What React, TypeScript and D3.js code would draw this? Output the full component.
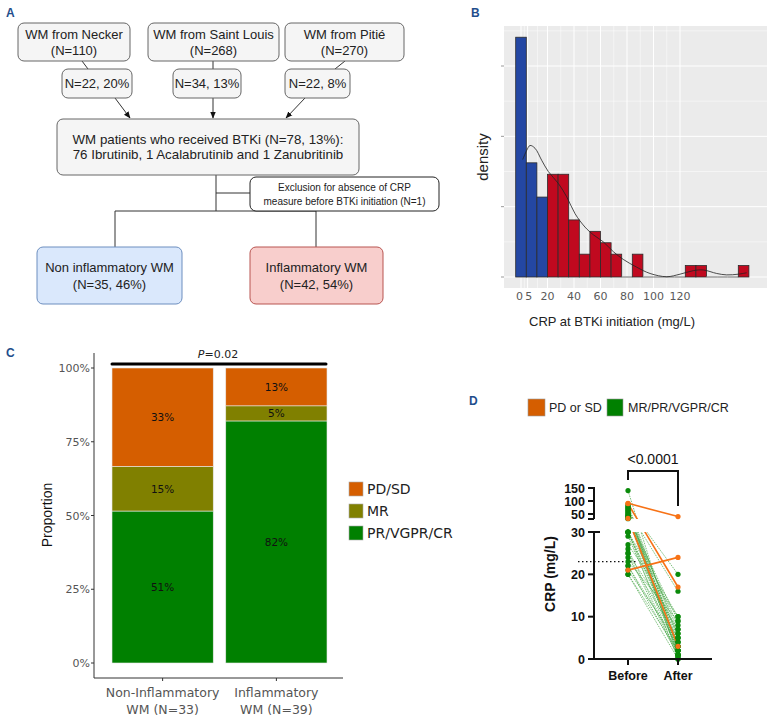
import React from 'react';
import * as d3 from 'd3';

// ---------- Panel A: flowchart texts
const centreNames = ['WM from Necker', 'WM from Saint Louis', 'WM from Pitié'];
const centreTotals = ['(N=110)', '(N=268)', '(N=270)'];
const centreTreated = ['N=22, 20%', 'N=34, 13%', 'N=22, 8%'];
const btkiLines = ['WM patients who received BTKi (N=78, 13%):', '76 Ibrutinib, 1 Acalabrutinib and 1 Zanubritinib'];
const exclusionLines = ['Exclusion for absence of CRP', 'measure before BTKi initiation (N=1)'];
const groupNames = ['Non inflammatory WM', 'Inflammatory WM'];
const groupCounts = ['(N=35, 46%)', '(N=42, 54%)'];

// ---------- Panel B: CRP histogram (bin width 8 mg/L)
const binLower = [-4, 4, 12, 20, 28, 36, 44, 52, 60, 68, 76, 84, 92, 100, 108, 116, 124, 132, 140, 148, 156, 164];
const binCounts = [21, 10, 7, 9, 9, 5, 2, 4, 3, 2, 0, 2, 0, 0, 0, 0, 1, 1, 0, 0, 0, 1];
const crpBreaks = [0, 5, 20, 40, 60, 80, 100, 120];
const densityTicks = [0, 0.01, 0.02, 0.03];
const kdeX = [1.3, 4.3, 6.8, 10.6, 15.6, 20.6, 28.2, 34.5, 40.8, 48.3, 54.6, 62.1, 69.7, 77.2, 87.3, 97.4, 110, 120, 130, 137.6, 147.7, 155.2, 164, 170.3];
const kdeY = [0.0167, 0.018, 0.0187, 0.0183, 0.0166, 0.015, 0.0133, 0.0114, 0.009, 0.0071, 0.006, 0.005, 0.0036, 0.0025, 0.0014, 0.0005, 0.00004, 0.0004, 0.0009, 0.001, 0.0005, 0.0003, 0.0004, 0.0006];

// ---------- Panel C: response by group
const respGroups = ['Non-Inflammatory|WM (N=33)', 'Inflammatory|WM (N=39)'];
const prVgprCr = [17, 32];
const mrCounts = [5, 2];
const pdSd = [11, 5];
const prLabels = ['51%', '82%'];
const mrLabels = ['15%', '5%'];
const pdLabels = ['33%', '13%'];
const respLabels = ['PD/SD', 'MR', 'PR/VGPR/CR'];
const pctTicks = [0, 0.25, 0.5, 0.75, 1];

// ---------- Panel D: CRP before / after
const crpBefore = [140, 85, 80, 76, 72, 68, 64, 60, 56, 52, 48, 45, 42, 40, 37, 35, 33, 32, 30, 30, 30, 30, 30, 29, 27, 26, 25, 25, 24, 23, 22, 22, 21, 20, 20, 91, 90, 33, 21];
const crpAfter = [2, 5, 20, 3, 1, 6, 16, 2, 4, 0.5, 7, 1, 3, 9, 2, 5, 8, 1, 10, 4, 0, 6, 3, 2, 10, 1, 7, 0.5, 5, 9, 3, 1, 4, 0, 2, 40, 17, 3, 24];
const crpResp = ['R', 'R', 'R', 'R', 'R', 'R', 'R', 'R', 'R', 'R', 'R', 'R', 'R', 'R', 'R', 'R', 'R', 'R', 'R', 'R', 'R', 'R', 'R', 'R', 'R', 'R', 'R', 'R', 'R', 'R', 'R', 'R', 'R', 'R', 'R', 'P', 'P', 'P', 'P'];
const lowerTicks = [0, 10, 20, 30];
const upperTicks = [50, 100, 150];
const crpThreshold = 23;

const SANS = '"Liberation Sans", Arial, sans-serif';
const DEJA = '"DejaVu Sans", Verdana, sans-serif';
const LETTER = '#1f4e8c';

function Box({ x, y, w, h, fill = '#f5f5f5', stroke = '#666', lines, size = 13, lineH = 16 }: any) {
  const mid = y + h / 2;
  const first = mid - ((lines.length - 1) * lineH) / 2 + size * 0.36;
  return (
    <g>
      <rect x={x} y={y} width={w} height={h} rx={6} fill={fill} stroke={stroke} strokeWidth={1} />
      {lines.map((t: string, i: number) => (
        <text key={i} x={x + w / 2} y={first + i * lineH} textAnchor="middle" fontSize={size} fontFamily={SANS} fill="#222">{t}</text>
      ))}
    </g>
  );
}

function PanelA() {
  const top = [[18, 112], [148, 131], [285, 119]];
  const small = [[62, 70], [173, 68], [285, 65]];
  return (
    <g>
      <text x={6} y={17} fontSize={12} fontWeight="bold" fill={LETTER} fontFamily={SANS}>A</text>
      <defs>
        <marker id="arr" viewBox="0 0 10 10" refX={9} refY={5} markerWidth={7} markerHeight={7} orient="auto">
          <path d="M0,1 L10,5 L0,9 z" fill="#111" />
        </marker>
      </defs>
      <g stroke="#333" strokeWidth={1} fill="none">
        <line x1={82} y1={61} x2={88} y2={69} />
        <line x1={213} y1={61} x2={213} y2={69} />
        <line x1={345} y1={61} x2={335} y2={69} />
        <line x1={115} y1={98} x2={130} y2={118} markerEnd="url(#arr)" />
        <line x1={213} y1={98} x2={213} y2={118} markerEnd="url(#arr)" />
        <line x1={305} y1={98} x2={286} y2={118} markerEnd="url(#arr)" />
        <line x1={216} y1={175} x2={216} y2={211} />
        <line x1={216} y1={193} x2={250} y2={193} />
        <line x1={115} y1={211} x2={316} y2={211} />
        <line x1={115} y1={211} x2={115} y2={247} />
        <line x1={316} y1={211} x2={316} y2={247} />
      </g>
      {top.map(([x, w], i) => (
        <Box key={i} x={x} y={23} w={w} h={38} lines={[centreNames[i], centreTotals[i]]} />
      ))}
      {small.map(([x, w], i) => (
        <Box key={i} x={x} y={69} w={w} h={29} lines={[centreTreated[i]]} />
      ))}
      <Box x={57} y={119} w={302} h={56} lines={btkiLines} size={13.3} lineH={15} />
      <Box x={250} y={177} w={189} h={34} fill="#fff" stroke="#222" lines={exclusionLines} size={10} lineH={14} />
      <Box x={37} y={247} w={145} h={57} fill="#dae8fc" stroke="#6c8ebf" lines={[groupNames[0], groupCounts[0]]} lineH={17} />
      <Box x={250} y={247} w={133} h={57} fill="#f8cecc" stroke="#b85450" lines={[groupNames[1], groupCounts[1]]} lineH={17} />
    </g>
  );
}

function PanelB() {
  const x = d3.scaleLinear().domain([0, 120]).range([521, 680]);
  const y = d3.scaleLinear().domain([0, 0.03]).range([277, 66]);
  const total = d3.sum(binCounts);
  const bw = 8;
  const left = 504, right = 767, top = 26, bottom = 288;
  const minorX = [2.5, 12.5, 30, 50, 70, 90, 110];
  const minorY = [0.005, 0.015, 0.025, 0.035];
  const line = d3.line<number>().x((_, i) => x(kdeX[i])).y((d) => y(d)).curve(d3.curveCatmullRom);
  return (
    <g>
      <text x={471} y={17} fontSize={12} fontWeight="bold" fill={LETTER} fontFamily={SANS}>B</text>
      <rect x={left} y={top} width={right - left} height={bottom - top} fill="#ebebeb" />
      {minorX.map((v) => <line key={'mx' + v} x1={x(v)} x2={x(v)} y1={top} y2={bottom} stroke="#fff" strokeWidth={0.5} />)}
      {minorY.map((v) => <line key={'my' + v} x1={left} x2={right} y1={y(v)} y2={y(v)} stroke="#fff" strokeWidth={0.5} />)}
      {crpBreaks.map((v) => <line key={'gx' + v} x1={x(v)} x2={x(v)} y1={top} y2={bottom} stroke="#fff" strokeWidth={1} />)}
      {densityTicks.map((v) => <line key={'gy' + v} x1={left} x2={right} y1={y(v)} y2={y(v)} stroke="#fff" strokeWidth={1} />)}
      {binLower.map((b, i) => {
        const d = binCounts[i] / (total * bw);
        const fill = b < 20 ? '#2447a3' : '#c0091f';
        if (binCounts[i] === 0) {
          return <line key={i} x1={x(b)} x2={x(b + bw)} y1={y(0)} y2={y(0)} stroke="#9a9a9a" strokeWidth={1.5} />;
        }
        return <rect key={i} x={x(b)} y={y(d)} width={x(b + bw) - x(b)} height={y(0) - y(d)} fill={fill} stroke="#2b2b2b" strokeWidth={0.8} />;
      })}
      <path d={line(kdeY) || ''} fill="none" stroke="#222" strokeWidth={0.8} />
      {densityTicks.map((v) => <line key={'ty' + v} x1={501} x2={504} y1={y(v)} y2={y(v)} stroke="#555" strokeWidth={0.6} />)}
      {crpBreaks.map((v) => (
        <text key={'lx' + v} x={x(v) + (v === 0 ? -1.5 : v === 5 ? 1 : 0)} y={300} textAnchor="middle" fontSize={11} fontFamily={DEJA} fill="#5a5a5a">{v}</text>
      ))}
      <text transform="translate(488,157) rotate(-90)" textAnchor="middle" fontSize={15} fontFamily={SANS} fill="#222">density</text>
      <text x={612} y={326} textAnchor="middle" fontSize={13} fontFamily={SANS} fill="#222">CRP at BTKi initiation (mg/L)</text>
    </g>
  );
}

function PanelC() {
  const x = d3.scaleBand().domain(respGroups).range([112, 327]).paddingInner(0.11).paddingOuter(0);
  const y = d3.scaleLinear().domain([0, 1]).range([663, 368]);
  const colours = ['#d55e00', '#808000', '#008000'];
  return (
    <g>
      <text x={6} y={357} fontSize={12} fontWeight="bold" fill={LETTER} fontFamily={SANS}>C</text>
      {respGroups.map((g, i) => {
        const n = prVgprCr[i] + mrCounts[i] + pdSd[i];
        const segs = [prVgprCr[i] / n, mrCounts[i] / n, pdSd[i] / n];
        const labs = [prLabels[i], mrLabels[i], pdLabels[i]];
        const cols = [colours[2], colours[1], colours[0]];
        let acc = 0;
        const x0 = x(g) as number;
        return (
          <g key={g}>
            {segs.map((p, j) => {
              const y0 = y(acc + p), y1 = y(acc);
              acc += p;
              return (
                <g key={j}>
                  <rect x={x0} y={y0} width={x.bandwidth()} height={y1 - y0} fill={cols[j]} stroke="#e8e8e8" strokeWidth={0.6} />
                  <text x={x0 + x.bandwidth() / 2} y={(y0 + y1) / 2 + 4} textAnchor="middle" fontSize={10.5} fontFamily={DEJA} fill="#111">{labs[j]}</text>
                </g>
              );
            })}
          </g>
        );
      })}
      <line x1={112} x2={326} y1={364} y2={364} stroke="#000" strokeWidth={3} strokeLinecap="round" />
      <text x={218} y={358} textAnchor="middle" fontSize={11} fontFamily={DEJA} fill="#222"><tspan fontStyle="italic">P</tspan>=0.02</text>
      <line x1={94} x2={94} y1={353} y2={678} stroke="#333" strokeWidth={1} />
      <line x1={94} x2={343} y1={678} y2={678} stroke="#333" strokeWidth={1} />
      {pctTicks.map((v) => (
        <g key={v}>
          <line x1={91} x2={94} y1={y(v)} y2={y(v)} stroke="#333" />
          <text x={90} y={y(v) + 4} textAnchor="end" fontSize={11} fontFamily={DEJA} fill="#555">{v * 100}%</text>
        </g>
      ))}
      {respGroups.map((g) => {
        const cx = (x(g) as number) + x.bandwidth() / 2;
        const [l1, l2] = g.split('|');
        return (
          <g key={g}>
            <line x1={cx} x2={cx} y1={678} y2={681} stroke="#333" />
            <text x={cx} y={697} textAnchor="middle" fontSize={12.5} fontFamily={DEJA} fill="#555">{l1}</text>
            <text x={cx} y={714} textAnchor="middle" fontSize={12.5} fontFamily={DEJA} fill="#555">{l2}</text>
          </g>
        );
      })}
      <text transform="translate(52,515) rotate(-90)" textAnchor="middle" fontSize={14} fontFamily={SANS} fill="#111">Proportion</text>
      {respLabels.map((l, i) => (
        <g key={l}>
          <rect x={349} y={482 + i * 22} width={14} height={14} fill={colours[i]} stroke="#aaa" strokeWidth={0.6} />
          <text x={367} y={494 + i * 22} fontSize={14} fontFamily={DEJA} fill="#222">{l}</text>
        </g>
      ))}
    </g>
  );
}

function PanelD() {
  const lowerY = d3.scaleLinear().domain([0, 30]).range([659, 532]);
  const upperY = d3.scaleLinear().domain([50, 150]).range([514, 488]);
  const yv = (v: number) => (v > 30 ? upperY(v) : lowerY(v));
  const x = d3.scalePoint().domain(['Before', 'After']).range([628, 678]);
  const xb = x('Before') as number, xa = x('After') as number;
  const orange = '#f77216', green = '#0a8a0a';
  const idx = crpBefore.map((_, i) => i);
  const greens = idx.filter((i) => crpResp[i] === 'R');
  const oranges = idx.filter((i) => crpResp[i] === 'P');
  const seg = (i: number, col: string, w: number, dash?: string) => (
    <line key={i} x1={xb} y1={yv(crpBefore[i])} x2={xa} y2={yv(crpAfter[i])} stroke={col} strokeWidth={w} strokeDasharray={dash} />
  );
  const lines = (
    <g>
      <g opacity={0.75}>{greens.map((i) => seg(i, green, 0.7, '1.6 1'))}</g>
      {oranges.map((i) => seg(i, orange, 1.6))}
    </g>
  );
  return (
    <g>
      <text x={469} y={405} fontSize={12} fontWeight="bold" fill={LETTER} fontFamily={SANS}>D</text>
      <rect x={528} y={399} width={17} height={17} fill="#d55e00" stroke="#999" strokeWidth={0.6} />
      <text x={549} y={412} fontSize={12.5} fontFamily={SANS} fill="#222">PD or SD</text>
      <rect x={607} y={399} width={16} height={17} fill="#008000" stroke="#999" strokeWidth={0.6} />
      <text x={628} y={412} fontSize={12.5} fontFamily={SANS} fill="#222">MR/PR/VGPR/CR</text>

      <defs>
        <clipPath id="clipUp"><rect x={560} y={470} width={160} height={49} /></clipPath>
        <clipPath id="clipLo"><rect x={560} y={532} width={160} height={130} /></clipPath>
      </defs>
      <g clipPath="url(#clipUp)">{lines}</g>
      <g clipPath="url(#clipLo)">{lines}</g>

      <line x1={578} x2={637} y1={yv(crpThreshold)} y2={yv(crpThreshold)} stroke="#111" strokeWidth={1.2} strokeDasharray="1.5 2.5" />

      {greens.map((i) => (
        <g key={'g' + i} fill={green}>
          <circle cx={xb} cy={yv(crpBefore[i])} r={2.6} />
          <circle cx={xa} cy={yv(crpAfter[i])} r={2.6} />
        </g>
      ))}
      {oranges.map((i) => (
        <g key={'o' + i} fill={orange}>
          <circle cx={xb} cy={yv(crpBefore[i])} r={2.6} />
          <circle cx={xa} cy={yv(crpAfter[i])} r={2.6} />
        </g>
      ))}

      <g stroke="#111" strokeWidth={2} fill="none">
        <line x1={594} x2={594} y1={487} y2={519} />
        <line x1={588} x2={594} y1={519} y2={519} />
        <line x1={594} x2={594} y1={532} y2={660} />
        <line x1={594} x2={712} y1={659} y2={659} />
        <line x1={594} x2={600} y1={532} y2={532} />
        <polyline points={`${xb},480 ${xb},471 ${xa},471 ${xa},506`} />
      </g>
      {upperTicks.map((v) => (
        <g key={'u' + v}>
          <line x1={588} x2={594} y1={upperY(v)} y2={upperY(v)} stroke="#111" strokeWidth={2} />
          <text x={585} y={upperY(v) + 4.5} textAnchor="end" fontSize={12.5} fontWeight="bold" fontFamily={SANS} fill="#111">{v}</text>
        </g>
      ))}
      {lowerTicks.map((v) => (
        <g key={'l' + v}>
          <line x1={588} x2={594} y1={lowerY(v)} y2={lowerY(v)} stroke="#111" strokeWidth={2} />
          <text x={585} y={lowerY(v) + 4.5} textAnchor="end" fontSize={12.5} fontWeight="bold" fontFamily={SANS} fill="#111">{v}</text>
        </g>
      ))}
      {x.domain().map((d) => (
        <g key={d}>
          <line x1={x(d)} x2={x(d)} y1={659} y2={665} stroke="#111" strokeWidth={2} />
          <text x={x(d)} y={680} textAnchor="middle" fontSize={12.5} fontWeight="bold" fontFamily={SANS} fill="#111">{d}</text>
        </g>
      ))}
      <text x={653} y={464} textAnchor="middle" fontSize={14} fontFamily={SANS} fill="#111">{'<0.0001'}</text>
      <text transform="translate(555,574) rotate(-90)" textAnchor="middle" fontSize={14} fontWeight="bold" fontFamily={SANS} fill="#111">CRP (mg/L)</text>
    </g>
  );
}

export default function App() {
  return (
    <svg width={768} height={723} style={{ position: 'absolute', left: 0, top: 0, background: '#fff' }}>
      <rect width={768} height={723} fill="#fff" />
      <PanelA />
      <PanelB />
      <PanelC />
      <PanelD />
    </svg>
  );
}
